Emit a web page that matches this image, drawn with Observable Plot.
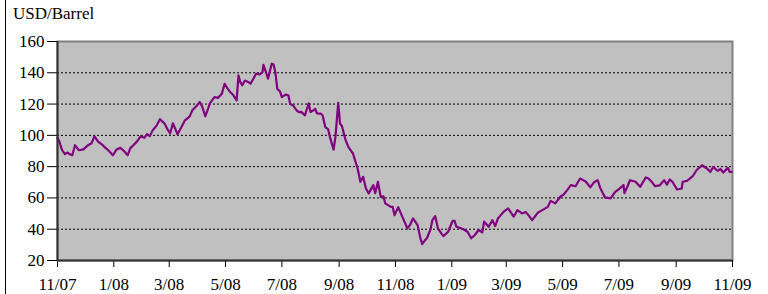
<!DOCTYPE html>
<html><head><meta charset="utf-8">
<script src="https://cdn.jsdelivr.net/npm/d3@7"></script>
<script src="https://cdn.jsdelivr.net/npm/@observablehq/plot@0.6"></script>
<style>
html,body{margin:0;padding:0;background:#fff;}
#wrap{position:relative;width:768px;height:294px;overflow:hidden;}
#frame{position:absolute;left:5px;top:0;width:1px;height:294px;background:#000;}
#title{position:absolute;left:13px;top:4px;font-family:"Times New Roman","Liberation Serif","DejaVu Serif",serif;font-size:17px;color:#000;}
svg text{font-family:"Times New Roman","Liberation Serif","DejaVu Serif",serif;}
</style>
</head><body>
<div id="wrap"><div id="frame"></div><div id="title">USD/Barrel</div></div>
<script>
const dates = ["2007-11-01","2007-11-03","2007-11-06","2007-11-09","2007-11-12","2007-11-14","2007-11-17","2007-11-20","2007-11-24","2007-11-29",
"2007-12-04","2007-12-08","2007-12-11","2007-12-15","2007-12-20","2007-12-23","2007-12-26","2007-12-31","2008-01-04","2008-01-08",
"2008-01-12","2008-01-16","2008-01-19","2008-01-21","2008-01-26","2008-01-30","2008-02-03","2008-02-06","2008-02-09","2008-02-12",
"2008-02-16","2008-02-20","2008-02-25","2008-02-28","2008-03-02","2008-03-05","2008-03-10","2008-03-14","2008-03-18","2008-03-23",
"2008-03-26","2008-03-31","2008-04-03","2008-04-06","2008-04-09","2008-04-12","2008-04-14","2008-04-19","2008-04-23","2008-04-27",
"2008-04-30","2008-05-03","2008-05-06","2008-05-09","2008-05-13","2008-05-15","2008-05-17","2008-05-19","2008-05-22","2008-05-26",
"2008-05-28","2008-05-31","2008-06-03","2008-06-07","2008-06-10","2008-06-11","2008-06-14","2008-06-16","2008-06-20","2008-06-22",
"2008-06-24","2008-06-26","2008-06-29","2008-07-01","2008-07-05","2008-07-08","2008-07-10","2008-07-13","2008-07-17","2008-07-19",
"2008-07-22","2008-07-26","2008-07-30","2008-08-01","2008-08-04","2008-08-06","2008-08-08","2008-08-12","2008-08-14","2008-08-17",
"2008-08-20","2008-08-22","2008-08-26","2008-08-28","2008-08-31","2008-09-02","2008-09-04","2008-09-08","2008-09-11","2008-09-14",
"2008-09-16","2008-09-21","2008-09-24","2008-09-27","2008-09-30","2008-10-03","2008-10-05","2008-10-08","2008-10-10","2008-10-13",
"2008-10-16","2008-10-19","2008-10-21","2008-10-27","2008-10-29","2008-10-31","2008-11-04","2008-11-07","2008-11-10","2008-11-14",
"2008-11-17","2008-11-20","2008-11-25","2008-11-28","2008-11-30","2008-12-03","2008-12-05","2008-12-09","2008-12-11","2008-12-14",
"2008-12-17","2008-12-21","2008-12-23","2008-12-28","2009-01-02","2009-01-04","2009-01-06","2009-01-13","2009-01-18","2009-01-22",
"2009-01-26","2009-01-30","2009-02-03","2009-02-05","2009-02-10","2009-02-14","2009-02-17","2009-02-20","2009-02-26","2009-03-03",
"2009-03-09","2009-03-13","2009-03-18","2009-03-22","2009-03-25","2009-03-29","2009-04-04","2009-04-09","2009-04-15","2009-04-18",
"2009-04-23","2009-04-29","2009-05-02","2009-05-06","2009-05-10","2009-05-15","2009-05-20","2009-05-26","2009-05-31","2009-06-04",
"2009-06-08","2009-06-11","2009-06-16","2009-06-22","2009-06-27","2009-07-02","2009-07-06","2009-07-07","2009-07-10","2009-07-13",
"2009-07-19","2009-07-24","2009-07-30","2009-08-02","2009-08-06","2009-08-09","2009-08-14","2009-08-19","2009-08-22","2009-08-25",
"2009-08-28","2009-09-02","2009-09-07","2009-09-08","2009-09-13","2009-09-19","2009-09-23","2009-09-29","2009-10-05","2009-10-08",
"2009-10-11","2009-10-16","2009-10-19","2009-10-22","2009-10-27","2009-10-29","2009-10-31"];
const prices = [98.3,96,90.5,88,89,88,87.3,93.7,90.5,91,
93.7,95,99.4,96,93.7,92,90.5,87.3,91,92,
90,87.3,92,93,96,99.4,98.5,100.7,99.5,103.2,
106,110.3,107.5,104,101.3,107.7,100.7,105,109.6,112,
116,119,121.3,118,112.2,117,120.5,124.5,124,126.6,
133,130,127.7,126,122.4,138.3,134,132,135,134,
133,136,139.4,139,140.4,145.1,140,136.2,145.8,145.3,
140,129.8,128,124.5,126,125.6,120,119.2,116,114.9,
115,112.8,120.5,114.9,116,117,114,113.9,113,105.3,
104,99,90.9,99,120.8,107.5,106,96.9,92.6,90,
88.4,78.8,70.3,73.5,66,62.9,65,68.2,63,70.3,
60.7,61,56.5,54.3,54.3,49,54.1,50,45.8,40.5,
43,46.9,42.6,34.2,30.5,33,34.2,40,45.8,48.4,
40.5,37,35.6,38.4,45.4,45.4,41.6,40.1,38.4,34.2,
36.3,39.5,38,44.8,41.6,45.8,42,46.9,51.1,53.3,
48,52.2,50.1,51,49,45.8,50.5,52.2,54.3,58.1,
56.5,61.1,62,65,68.2,67.5,72.4,70.5,66.7,70,
71.3,66.1,60.3,59.7,63.9,66.1,68.2,63.1,67,71.3,
70.3,67.1,73.1,72.4,70,67.5,68,71.3,68.5,71.8,
70.3,65.4,66,70.3,71,73.9,77.7,80.9,78.5,76.6,
79.8,77.3,78.5,76.2,79.2,76.6,76.6];
const tickDates = ["2007-11-01","2008-01-01","2008-03-01","2008-05-01","2008-07-01","2008-09-01","2008-11-01","2009-01-01","2009-03-01","2009-05-01","2009-07-01","2009-09-01","2009-11-01"];
const tickLabels = ["11/07","1/08","3/08","5/08","7/08","9/08","11/08","1/09","3/09","5/09","7/09","9/09","11/09"];
const yTicks = [20,40,60,80,100,120,140,160];
const gridValues = [40,60,80,100,120,140];

const table = dates.map((d,i)=>({date:new Date(d+"T00:00:00Z"), price:prices[i]}));
const xt = tickDates.map(d=>new Date(d+"T00:00:00Z"));
const labelOf = new Map(xt.map((d,i)=>[+d, tickLabels[i]]));
const FONT = "'Times New Roman','Liberation Serif','DejaVu Serif',serif";

const chart = Plot.plot({
  width:768, height:294,
  marginLeft:57, marginRight:36, marginTop:41, marginBottom:34,
  style:{fontFamily:FONT, fontSize:"17px", color:"#000", background:"transparent"},
  x:{type:"utc", domain:[xt[0], xt[xt.length-1]], label:null},
  y:{domain:[20,160], label:null},
  marks:[
    Plot.frame({fill:"#c0c0c0", stroke:"#808080", strokeWidth:2}),
    Plot.ruleY(gridValues, {stroke:"#000", strokeDasharray:"2,2", strokeWidth:1}),
    Plot.line(table, {x:"date", y:"price", stroke:"#800080", strokeWidth:2.2}),
    Plot.axisX({ticks:xt, tickFormat:d=>labelOf.get(+d), tickSize:7, tickPadding:10, stroke:"#000", fontSize:17, label:null}),
    Plot.axisY({ticks:yTicks, tickSize:10, tickPadding:3, stroke:"#000", fontSize:17, label:null}),
    Plot.ruleX([xt[0]], {stroke:"#333", strokeWidth:2}),
    Plot.ruleY([20], {stroke:"#333", strokeWidth:2})
  ]
});
chart.style.position="absolute";
chart.style.left="0";
chart.style.top="0";
document.getElementById("wrap").prepend(chart);
</script>
</body></html>
